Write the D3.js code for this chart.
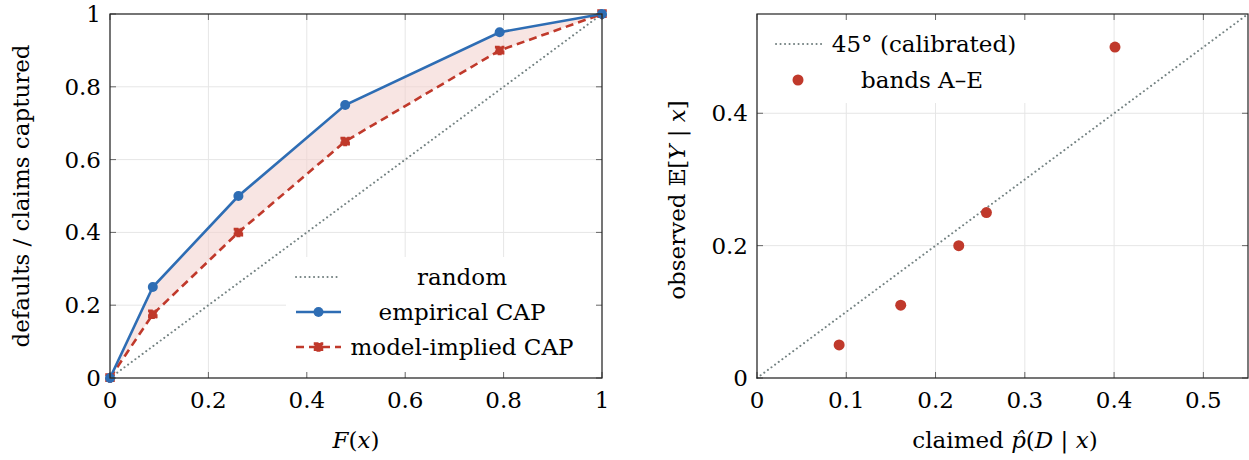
<!DOCTYPE html>
<html>
<head>
<meta charset="utf-8">
<script src="https://cdn.jsdelivr.net/npm/d3@7"></script>
<style>
  body { margin: 0; background: #fff; }
  svg text { font-family: "DejaVu Serif", "Liberation Serif", serif; }
</style>
</head>
<body>
<div id="chart-area"></div>
<script>
const WIDTH = 1249;
const HEIGHT = 460;
const FONT = 23;

// CAP panel data
const capX = [0, 0.087, 0.261, 0.478, 0.792, 1];
const empiricalCap = [0, 0.25, 0.5, 0.75, 0.95, 1];
const modelCap = [0, 0.175, 0.40, 0.65, 0.90, 1];
const capTicks = [0, 0.2, 0.4, 0.6, 0.8, 1];

// calibration panel data
const bandLabels = ["A", "B", "C", "D", "E"];
const claimedP = [0.092, 0.161, 0.226, 0.257, 0.401];
const observedY = [0.05, 0.11, 0.20, 0.25, 0.50];
const calXTicks = [0, 0.1, 0.2, 0.3, 0.4, 0.5];
const calYTicks = [0, 0.2, 0.4];

const BLUE = "#2e6db4";
const RED = "#c0392b";
const GREY = "#748282";
const FILL = "#f2d0cc";
const DOTS = "0.1,4.4";

const svg = d3.select("#chart-area").append("svg")
    .attr("width", WIDTH)
    .attr("height", HEIGHT);

function fmt(v) { return v === 0 ? "0" : v === 1 ? "1" : String(+v.toFixed(2)); }

// grid lines behind everything
function panel(x, y, xTicks, yTicks) {
    const g = svg.append("g");
    const [x0, x1] = x.range();
    const [y0, y1] = y.range();
    g.append("g").selectAll("line").data(xTicks).join("line")
        .attr("x1", d => x(d)).attr("x2", d => x(d))
        .attr("y1", y0).attr("y2", y1)
        .attr("stroke", "#e6e6e6");
    g.append("g").selectAll("line").data(yTicks).join("line")
        .attr("y1", d => y(d)).attr("y2", d => y(d))
        .attr("x1", x0).attr("x2", x1)
        .attr("stroke", "#e6e6e6");
    return g;
}

// frame, ticks on all four sides, tick labels
function frame(x, y, xTicks, yTicks) {
    const g = svg.append("g");
    const [x0, x1] = x.range();
    const [y0, y1] = y.range();
    const tl = 6;
    const tk = g.append("g").attr("stroke", "#666").attr("stroke-width", 1);
    xTicks.forEach(t => {
        tk.append("line").attr("x1", x(t)).attr("x2", x(t)).attr("y1", y0).attr("y2", y0 - tl);
        tk.append("line").attr("x1", x(t)).attr("x2", x(t)).attr("y1", y1).attr("y2", y1 + tl);
    });
    yTicks.forEach(t => {
        tk.append("line").attr("y1", y(t)).attr("y2", y(t)).attr("x1", x0).attr("x2", x0 + tl);
        tk.append("line").attr("y1", y(t)).attr("y2", y(t)).attr("x1", x1).attr("x2", x1 - tl);
    });
    g.append("rect")
        .attr("x", x0).attr("y", y1)
        .attr("width", x1 - x0).attr("height", y0 - y1)
        .attr("fill", "none").attr("stroke", "#222").attr("stroke-width", 1.2);
    g.append("g").selectAll("text").data(xTicks).join("text")
        .attr("x", d => x(d)).attr("y", y0 + 30)
        .attr("text-anchor", "middle")
        .attr("font-size", FONT)
        .text(fmt);
    g.append("g").selectAll("text").data(yTicks).join("text")
        .attr("x", x0 - 9).attr("y", d => y(d) + 8)
        .attr("text-anchor", "end")
        .attr("font-size", FONT)
        .text(fmt);
    return g;
}

// ---------- left: CAP curves ----------
const x1 = d3.scaleLinear().domain([0, 1]).range([110, 602]);
const y1 = d3.scaleLinear().domain([0, 1]).range([378, 14]);
panel(x1, y1, capTicks, capTicks);

const capData = capX.map((v, i) => ({x: v, e: empiricalCap[i], m: modelCap[i]}));

svg.append("path")
    .datum(capData)
    .attr("fill", FILL)
    .attr("fill-opacity", 0.55)
    .attr("d", d3.area().x(d => x1(d.x)).y0(d => y1(d.m)).y1(d => y1(d.e)));

svg.append("path")
    .datum([0, 1])
    .attr("fill", "none")
    .attr("stroke", GREY)
    .attr("stroke-width", 2)
    .attr("stroke-dasharray", DOTS)
    .attr("stroke-linecap", "round")
    .attr("d", d3.line().x(d => x1(d)).y(d => y1(d)));

svg.append("path")
    .datum(capData)
    .attr("fill", "none")
    .attr("stroke", RED)
    .attr("stroke-width", 2.6)
    .attr("stroke-dasharray", "8,5")
    .attr("d", d3.line().x(d => x1(d.x)).y(d => y1(d.m)));

svg.append("path")
    .datum(capData)
    .attr("fill", "none")
    .attr("stroke", BLUE)
    .attr("stroke-width", 2.6)
    .attr("d", d3.line().x(d => x1(d.x)).y(d => y1(d.e)));

svg.append("g").selectAll("rect").data(capData).join("rect")
    .attr("x", d => x1(d.x) - 4).attr("y", d => y1(d.m) - 4)
    .attr("width", 8).attr("height", 8)
    .attr("fill", RED)
    .attr("stroke", RED).attr("stroke-width", 1.5)
    .attr("stroke-dasharray", "4,2");

svg.append("g").selectAll("circle").data(capData).join("circle")
    .attr("cx", d => x1(d.x)).attr("cy", d => y1(d.e))
    .attr("r", 5)
    .attr("fill", BLUE);

// legend
const leg1 = svg.append("g");
leg1.append("rect")
    .attr("x", 286).attr("y", 257).attr("width", 315).attr("height", 120)
    .attr("fill", "#fff");
const legItems1 = ["random", "empirical CAP", "model-implied CAP"];
const legY1 = [277, 312, 347];
legItems1.forEach((name, i) => {
    const yy = legY1[i];
    const line = leg1.append("line")
        .attr("x1", 296).attr("x2", 341).attr("y1", yy).attr("y2", yy);
    if (i === 0) {
        line.attr("stroke", GREY).attr("stroke-width", 2)
            .attr("stroke-dasharray", DOTS).attr("stroke-linecap", "round");
    } else if (i === 1) {
        line.attr("stroke", BLUE).attr("stroke-width", 2.6);
        leg1.append("circle").attr("cx", 318.5).attr("cy", yy).attr("r", 5).attr("fill", BLUE);
    } else {
        line.attr("stroke", RED).attr("stroke-width", 2.6).attr("stroke-dasharray", "8,5");
        leg1.append("rect").attr("x", 314.5).attr("y", yy - 4).attr("width", 8).attr("height", 8)
            .attr("fill", RED).attr("stroke", RED).attr("stroke-width", 1.5).attr("stroke-dasharray", "4,2");
    }
    leg1.append("text")
        .attr("x", 462).attr("y", yy + 8)
        .attr("text-anchor", "middle")
        .attr("font-size", FONT)
        .text(name);
});

frame(x1, y1, capTicks, capTicks);

svg.append("text")
    .attr("transform", "translate(29,196) rotate(-90)")
    .attr("text-anchor", "middle")
    .attr("font-size", FONT)
    .text("defaults / claims captured");

const fx = svg.append("text")
    .attr("x", 356).attr("y", 448)
    .attr("text-anchor", "middle")
    .attr("font-size", FONT);
fx.append("tspan").attr("font-style", "italic").text("F");
fx.append("tspan").text("(");
fx.append("tspan").attr("font-style", "italic").text("x");
fx.append("tspan").text(")");

// ---------- right: calibration ----------
const x2 = d3.scaleLinear().domain([0, 0.55]).range([757, 1248]);
const y2 = d3.scaleLinear().domain([0, 0.55]).range([378, 14]);
panel(x2, y2, calXTicks, calYTicks);

svg.append("path")
    .datum([0, 0.55])
    .attr("fill", "none")
    .attr("stroke", GREY)
    .attr("stroke-width", 2)
    .attr("stroke-dasharray", DOTS)
    .attr("stroke-linecap", "round")
    .attr("d", d3.line().x(d => x2(d)).y(d => y2(d)));

const leg2 = svg.append("g");
leg2.append("rect")
    .attr("x", 758).attr("y", 15).attr("width", 275).attr("height", 88)
    .attr("fill", "#fff");

svg.append("g").selectAll("circle").data(bandLabels).join("circle")
    .attr("cx", (d, i) => x2(claimedP[i]))
    .attr("cy", (d, i) => y2(observedY[i]))
    .attr("r", 5.5)
    .attr("fill", RED);

leg2.append("line")
    .attr("x1", 776).attr("x2", 822).attr("y1", 44).attr("y2", 44)
    .attr("stroke", GREY).attr("stroke-width", 2)
    .attr("stroke-dasharray", DOTS).attr("stroke-linecap", "round");
leg2.append("text")
    .attr("x", 924).attr("y", 52)
    .attr("text-anchor", "middle")
    .attr("font-size", FONT)
    .text("45° (calibrated)");
leg2.append("circle")
    .attr("cx", 798).attr("cy", 80).attr("r", 5.5).attr("fill", RED);
leg2.append("text")
    .attr("x", 922).attr("y", 88)
    .attr("text-anchor", "middle")
    .attr("font-size", FONT)
    .text(`bands ${bandLabels[0]}–${bandLabels[bandLabels.length - 1]}`);

frame(x2, y2, calXTicks, calYTicks);

const oy = svg.append("text")
    .attr("transform", "translate(685,200) rotate(-90)")
    .attr("text-anchor", "middle")
    .attr("font-size", FONT);
oy.append("tspan").text("observed 𝔼[");
oy.append("tspan").attr("font-style", "italic").text("Y");
oy.append("tspan").text(" | ");
oy.append("tspan").attr("font-style", "italic").text("x");
oy.append("tspan").text("]");

const cp = svg.append("text")
    .attr("x", 1005).attr("y", 448)
    .attr("text-anchor", "middle")
    .attr("font-size", FONT);
cp.append("tspan").text("claimed ");
cp.append("tspan").attr("font-style", "italic").text("p̂");
cp.append("tspan").text("(");
cp.append("tspan").attr("font-style", "italic").text("D");
cp.append("tspan").text(" | ");
cp.append("tspan").attr("font-style", "italic").text("x");
cp.append("tspan").text(")");
</script>
</body>
</html>
